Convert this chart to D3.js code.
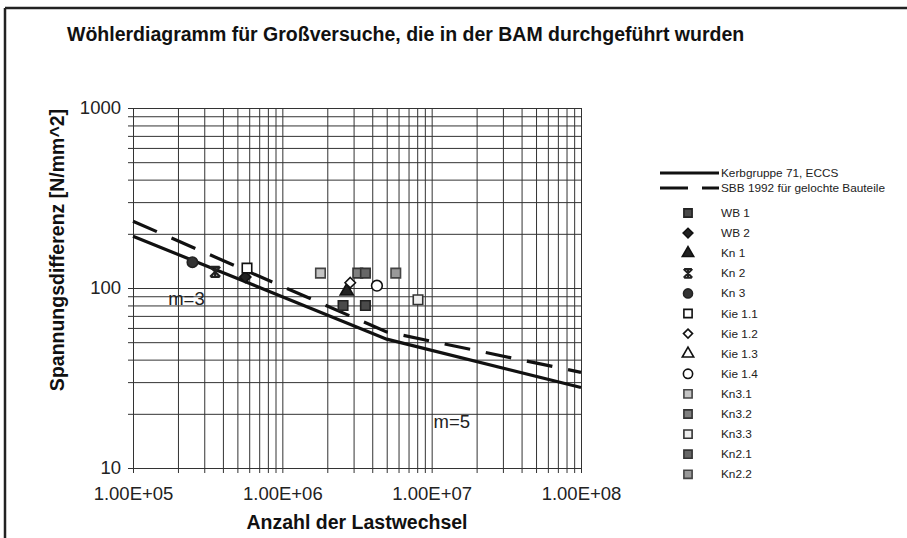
<!DOCTYPE html>
<html><head><meta charset="utf-8">
<script src="https://cdn.jsdelivr.net/npm/d3@7"></script>
<style>
body{margin:0;background:#fff;}
text{font-family:"Liberation Sans",Arial,sans-serif;}
</style></head>
<body><svg id="c" width="907" height="538"></svg>
<script>
// ---- data ----
const titleText = "Wöhlerdiagramm für Großversuche, die in der BAM durchgeführt wurden";
const xTitle = "Anzahl der Lastwechsel";
const yTitle = "Spannungsdifferenz [N/mm^2]";
const xTickValues = [1e5, 1e6, 1e7, 1e8];
const xTickLabels = ["1.00E+05", "1.00E+06", "1.00E+07", "1.00E+08"];
const yTickValues = [10, 100, 1000];
const yTickLabels = ["10", "100", "1000"];

const kerbN = [1e5, 5e6, 1e8];
const kerbS = [194, 52, 28];
const sbbN = [1e5, 5e6, 1e8];
const sbbS = [235, 57, 34];

const seriesNames = ["WB 1","WB 2","Kn 1","Kn 2","Kn 3","Kie 1.1","Kie 1.2","Kie 1.3","Kie 1.4","Kn3.1","Kn3.2","Kn3.3","Kn2.1","Kn2.2"];
const seriesN = [[2.55e6, 3.6e6],[5.65e5],[2.7e6],[3.55e5],[2.5e5],[5.8e5],[2.85e6],[],[4.3e6],[1.8e6],[3.2e6],[8.1e6],[3.6e6],[5.75e6]];
const seriesS = [[80, 80],[115],[96],[123],[139],[129],[107],[],[103],[121],[121],[86],[121],[121]];

const annotText = ["m=3", "m=5"];
const annotN = [1.72e5, 1.03e7];
const annotS = [80, 16.7];

// ---- styles ----
const star = {draw(ctx, size){ const r = Math.sqrt(size)/2;
  ctx.moveTo(-r,-r); ctx.lineTo(r,r); ctx.moveTo(r,-r); ctx.lineTo(-r,r);
  ctx.moveTo(0,-r); ctx.lineTo(0,r); ctx.moveTo(-r*0.9,-r); ctx.lineTo(r*0.9,-r); ctx.moveTo(-r*0.9,r); ctx.lineTo(r*0.9,r);}};
const diamond = {draw(ctx, size){ const r = Math.sqrt(size)/1.6;
  ctx.moveTo(0,-r); ctx.lineTo(r,0); ctx.lineTo(0,r); ctx.lineTo(-r,0); ctx.closePath();}};
const styles = [
  {type:d3.symbolSquare, size:90, fill:"#4a4a4a", stroke:"#222"},
  {type:diamond, size:80, fill:"#222", stroke:"#111"},
  {type:d3.symbolTriangle, size:75, fill:"#222", stroke:"#111"},
  {type:star, size:100, fill:"none", stroke:"#222"},
  {type:d3.symbolCircle, size:85, fill:"#333", stroke:"#222"},
  {type:d3.symbolSquare, size:90, fill:"#fff", stroke:"#111"},
  {type:diamond, size:70, fill:"#fff", stroke:"#111"},
  {type:d3.symbolTriangle, size:75, fill:"#fff", stroke:"#111"},
  {type:d3.symbolCircle, size:90, fill:"#fff", stroke:"#111"},
  {type:d3.symbolSquare, size:90, fill:"#c4c4c4", stroke:"#444"},
  {type:d3.symbolSquare, size:90, fill:"#808080", stroke:"#333"},
  {type:d3.symbolSquare, size:90, fill:"#eee", stroke:"#333"},
  {type:d3.symbolSquare, size:90, fill:"#666", stroke:"#333"},
  {type:d3.symbolSquare, size:90, fill:"#999", stroke:"#444"}
];

const svg = d3.select("#c");
const L = 133, R = 581, T = 108, B = 468;
const x = d3.scaleLog().domain([1e5, 1e8]).range([L, R]);
const y = d3.scaleLog().domain([10, 1000]).range([B, T]);

// frame
svg.append("line").attr("x1",5).attr("x2",5).attr("y1",8).attr("y2",538).attr("stroke","#222").attr("stroke-width",2.5);
svg.append("line").attr("x1",5).attr("x2",907).attr("y1",8).attr("y2",8).attr("stroke","#222").attr("stroke-width",2.5);

// title
svg.append("text").attr("x",67).attr("y",41).attr("font-size",19.5).attr("font-weight","bold").attr("fill","#111").text(titleText);

const xAll = x.ticks();
const yAll = y.ticks();

// grids
svg.append("g").attr("transform",`translate(0,${B})`)
  .call(d3.axisBottom(x).tickValues(xAll).tickSize(-(B-T)).tickFormat(""))
  .call(g=>g.select(".domain").remove())
  .call(g=>g.selectAll("line").attr("stroke","#333").attr("stroke-width",1));
svg.append("g").attr("transform",`translate(${L},0)`)
  .call(d3.axisLeft(y).tickValues(yAll).tickSize(-(R-L)).tickFormat(""))
  .call(g=>g.select(".domain").remove())
  .call(g=>g.selectAll("line").attr("stroke","#333").attr("stroke-width",1));

// axes with small outer ticks
const xAxis = svg.append("g").attr("transform",`translate(0,${B})`)
  .call(d3.axisBottom(x).tickValues(xAll).tickSize(5).tickSizeOuter(0)
    .tickFormat(d => { const i = xTickValues.indexOf(d); return i>=0 ? xTickLabels[i] : ""; }));
xAxis.selectAll("text").attr("font-size",18.5).attr("fill","#222").attr("dy","1.3em");
xAxis.selectAll("line,path").attr("stroke","#333");
const yAxis = svg.append("g").attr("transform",`translate(${L},0)`)
  .call(d3.axisLeft(y).tickValues(yAll).tickSize(5).tickSizeOuter(0)
    .tickFormat(d => { const i = yTickValues.indexOf(d); return i>=0 ? yTickLabels[i] : ""; }));
yAxis.selectAll("text").attr("font-size",18.5).attr("fill","#222").attr("dx","-4px");
yAxis.selectAll("line,path").attr("stroke","#333");

// axis titles
svg.append("text").attr("x",357).attr("y",529).attr("text-anchor","middle").attr("font-size",19.5).attr("font-weight","bold").attr("fill","#111").text(xTitle);
svg.append("text").attr("transform","translate(64,250) rotate(-90)").attr("text-anchor","middle").attr("font-size",19.5).attr("font-weight","bold").attr("fill","#111").text(yTitle);

// lines
const line = d3.line().x(d=>x(d[0])).y(d=>y(d[1]));
svg.append("path").datum(kerbN.map((n,i)=>[n,kerbS[i]])).attr("d",line).attr("fill","none").attr("stroke","#111").attr("stroke-width",3.2);
svg.append("path").datum(sbbN.map((n,i)=>[n,sbbS[i]])).attr("d",line).attr("fill","none").attr("stroke","#111").attr("stroke-width",3.2).attr("stroke-dasharray","26,16");

// annotations
annotText.forEach((t,i)=>svg.append("text").attr("x",x(annotN[i])).attr("y",y(annotS[i])).attr("font-size",18.5).attr("fill","#222").text(t));

// points
seriesNames.forEach((name,i)=>{
  const st = styles[i];
  const sym = d3.symbol().type(st.type).size(st.size);
  seriesN[i].forEach((n,j)=>{
    svg.append("path").attr("d",sym()).attr("transform",`translate(${x(n)},${y(seriesS[i][j])})`)
      .attr("fill",st.fill).attr("stroke",st.stroke).attr("stroke-width",st.type===star?2.2:1.6);
  });
});

// legend
const lg = svg.append("g").attr("font-size",11.8).attr("fill","#222");
lg.append("line").attr("x1",660).attr("x2",719).attr("y1",173).attr("y2",173).attr("stroke","#111").attr("stroke-width",3);
lg.append("text").attr("x",721).attr("y",177).text("Kerbgruppe 71, ECCS");
lg.append("line").attr("x1",660).attr("x2",719).attr("y1",188).attr("y2",188).attr("stroke","#111").attr("stroke-width",3).attr("stroke-dasharray","28,14");
lg.append("text").attr("x",721).attr("y",192).text("SBB 1992 für gelochte Bauteile");
seriesNames.forEach((name,i)=>{
  const st = styles[i];
  const yy = 213 + i*20.1;
  lg.append("path").attr("d",d3.symbol().type(st.type).size(st.size*0.75)()).attr("transform",`translate(688,${yy})`)
    .attr("fill",st.fill).attr("stroke",st.stroke).attr("stroke-width",st.type===star?2:1.6);
  lg.append("text").attr("x",721).attr("y",yy+4).text(name);
});
</script></body></html>
